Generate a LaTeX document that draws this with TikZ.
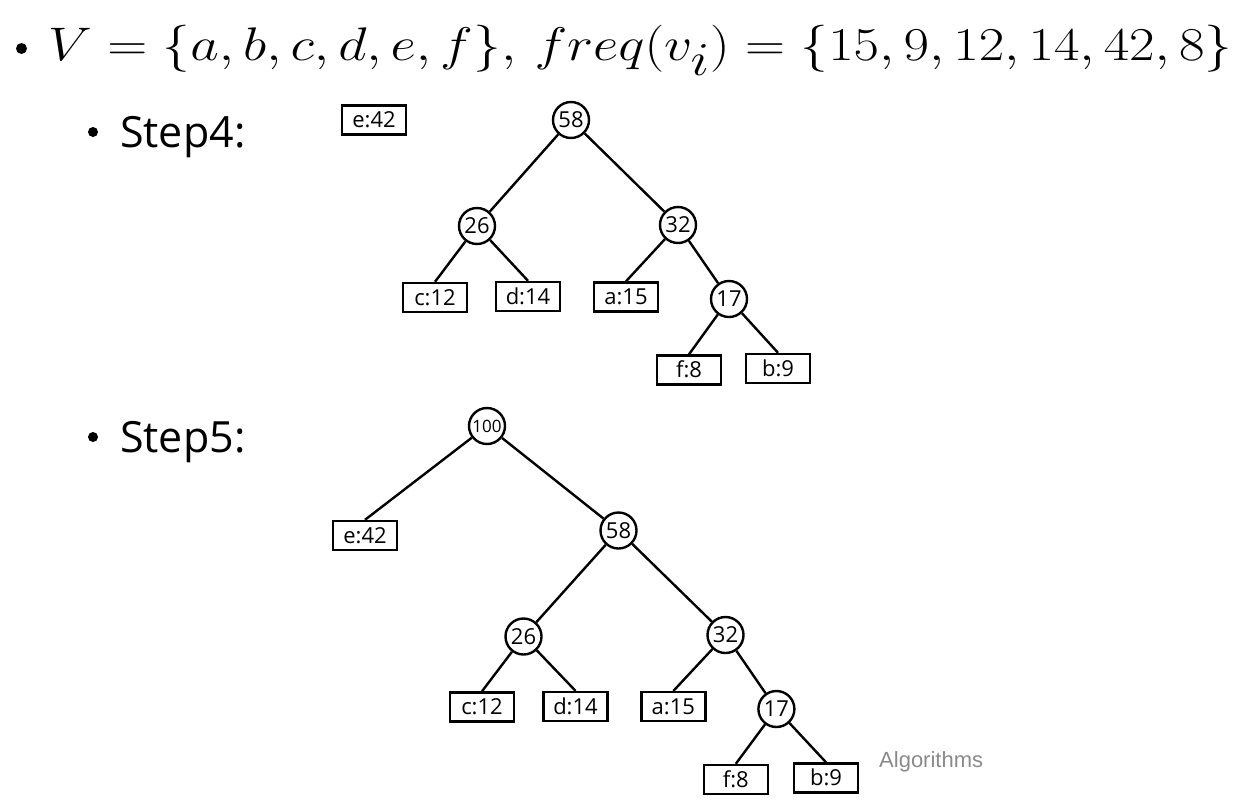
\documentclass[tikz,border=0pt]{standalone}
\usepackage{graphicx}
\usepackage{fontspec}
\newfontfamily\treefont{Open Sans}
\newfontfamily\labfont{Open Sans}
\newfontfamily\footfont{Liberation Sans}
\definecolor{footgray}{HTML}{8A8A8A}
\begin{document}
\begin{tikzpicture}[x=1pt,y=-1pt,
  leaf/.style={draw, line width=2.4pt, minimum width=64pt, minimum height=29pt, inner sep=0pt, text height=15.5pt, text depth=0pt, font=\treefont\fontsize{22}{26}\selectfont},
  inode/.style={draw, circle, line width=2.4pt, minimum size=36pt, inner sep=0pt, text height=15.5pt, text depth=0pt, font=\treefont\fontsize{22}{26}\selectfont},
  link/.style={line width=2.4pt},
  steplabel/.style={anchor=base west, inner sep=0pt, font=\labfont\fontsize{43}{50}\selectfont},
  bul/.style={fill=black, draw=none}]
\useasboundingbox (0,0) rectangle (1244,801);

% heading
\fill[bul] (21.5,48.5) circle (5.5pt);
\node[anchor=north west, inner sep=0pt] (head) at (48,25)
  {\resizebox*{1184pt}{50pt}{\fontsize{49}{55}\selectfont$V=\{a,b,c,d,e,f\},\,freq(v_i)=\{15,9,12,14,42,8\}$}};

% step labels
\fill[bul] (93,132) circle (5pt);
\node[steplabel] (s4) at (120,147) {Step4:};
\fill[bul] (93,437) circle (5pt);
\node[steplabel] (s5) at (120,452) {Step5:};

% Step 4 tree
\node[leaf] (Ae) at (374,120) {e:42};
\node[inode] (A58) at (571,120) {58};
\node[inode] (A26) at (477,226) {26};
\node[inode] (A32) at (678,225) {32};
\node[leaf] (Ac) at (435,297.5) {c:12};
\node[leaf] (Ad) at (528,296.5) {d:14};
\node[leaf] (Aa) at (626,297) {a:15};
\node[inode] (A17) at (729,299) {17};
\node[leaf] (Af) at (689,370) {f:8};
\node[leaf] (Ab) at (778,368.5) {b:9};
\draw[link] (A58) -- (A26);
\draw[link] (A58) -- (A32);
\draw[link] (A26) -- (Ac.north);
\draw[link] (A26) -- (Ad.north);
\draw[link] (A32) -- (Aa.north);
\draw[link] (A32) -- (A17);
\draw[link] (A17) -- (Af.north);
\draw[link] (A17) -- (Ab.north);

% Step 5 tree
\node[inode, text height=12pt, font=\treefont\fontsize{17}{20}\selectfont] (B100) at (487,426) {100};
\node[leaf] (Be) at (365,535.5) {e:42};
\node[inode] (B58) at (618.5,530.5) {58};
\node[inode] (B26) at (523.5,636.5) {26};
\node[inode] (B32) at (725.5,635) {32};
\node[leaf] (Bc) at (482,707) {c:12};
\node[leaf] (Bd) at (575.5,706.5) {d:14};
\node[leaf] (Ba) at (673.3,706.7) {a:15};
\node[inode] (B17) at (776.4,709) {17};
\node[leaf] (Bf) at (735.8,779.5) {f:8};
\node[leaf] (Bb) at (826,778) {b:9};
\draw[link] (B100) -- (Be.north);
\draw[link] (B100) -- (B58);
\draw[link] (B58) -- (B26);
\draw[link] (B58) -- (B32);
\draw[link] (B26) -- (Bc.north);
\draw[link] (B26) -- (Bd.north);
\draw[link] (B32) -- (Ba.north);
\draw[link] (B32) -- (B17);
\draw[link] (B17) -- (Bf.north);
\draw[link] (B17) -- (Bb.north);

% footer
\node[anchor=base west, inner sep=0pt, text=footgray, font=\footfont\fontsize{22}{26}\selectfont] (foot) at (879,767) {Algorithms};
\end{tikzpicture}
\end{document}
